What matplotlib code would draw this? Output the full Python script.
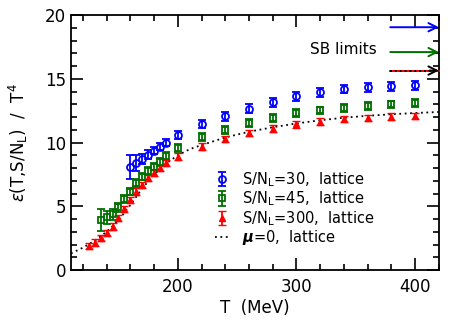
import matplotlib
matplotlib.use('Agg')
import matplotlib.pyplot as plt
from matplotlib.ticker import MultipleLocator

# ── Data ──────────────────────────────────────────────
T_30   = [160, 165, 170, 175, 180, 185, 190, 200, 220, 240, 260, 280, 300, 320, 340, 360, 380, 400]
eps_30 = [8.07, 8.4, 8.7, 9.06, 9.37, 9.69, 10.0, 10.6, 11.45, 12.07, 12.67, 13.15, 13.65, 13.95, 14.2, 14.35, 14.42, 14.5]
err_30 = [0.95, 0.6, 0.4, 0.35, 0.3, 0.3, 0.3, 0.3, 0.3, 0.35, 0.35, 0.35, 0.35, 0.35, 0.35, 0.35, 0.35, 0.35]

T_45   = [135, 140, 145, 150, 155, 160, 165, 170, 175, 180, 185, 190, 200, 220, 240, 260, 280, 300, 320, 340, 360, 380, 400]
eps_45 = [3.9, 4.14, 4.37, 4.92, 5.55, 6.15, 6.81, 7.33, 7.78, 8.12, 8.5, 8.95, 9.56, 10.45, 11.0, 11.52, 11.94, 12.3, 12.52, 12.7, 12.88, 13.0, 13.1]
err_45 = [0.85, 0.5, 0.45, 0.35, 0.3, 0.3, 0.3, 0.3, 0.3, 0.3, 0.3, 0.3, 0.3, 0.3, 0.3, 0.3, 0.3, 0.3, 0.3, 0.3, 0.3, 0.3, 0.3]

T_300   = [125, 130, 135, 140, 145, 150, 155, 160, 165, 170, 175, 180, 185, 190, 200, 220, 240, 260, 280, 300, 320, 340, 360, 380, 400]
eps_300 = [1.89, 2.15, 2.49, 2.88, 3.4, 4.06, 4.77, 5.5, 6.15, 6.68, 7.2, 7.6, 7.99, 8.38, 8.9, 9.69, 10.3, 10.73, 11.1, 11.42, 11.65, 11.83, 11.92, 12.04, 12.06]
err_300 = [0.25] * len(T_300)

T_mu0   = [110, 120, 130, 140, 150, 160, 170, 180, 190, 200, 210, 220, 240, 260, 280, 300, 320, 340, 360, 380, 400, 420]
eps_mu0 = [1.3, 1.75, 2.3, 3.0, 3.9, 5.1, 6.4, 7.5, 8.35, 9.0, 9.48, 9.8, 10.4, 10.85, 11.2, 11.5, 11.75, 11.95, 12.1, 12.22, 12.32, 12.4]

SB_30, SB_45, SB_mu0 = 19.05, 17.1, 15.65
SB_T = [379, 420]

BLUE, GREEN, RED = '#0000ff', '#007000', '#ff0000'

# ── Figure ────────────────────────────────────────────
fig = plt.figure(figsize=(4.63, 3.36), dpi=100)
ax = fig.add_axes([0.1533, 0.1964, 0.7947, 0.7586])

ax.plot(T_mu0, eps_mu0, ls=(0, (1, 2)), color='black', lw=1.3, label=r'$\boldsymbol{\mu}$=0,  lattice', zorder=1)
ax.errorbar(T_30, eps_30, yerr=err_30, fmt='o', mfc='none', mec=BLUE, color=BLUE,
            ms=5, mew=1.3, capsize=3, elinewidth=1.3, capthick=1.3, label=r'S/N$_{\rm L}$=30,  lattice', zorder=3)
ax.errorbar(T_45, eps_45, yerr=err_45, fmt='s', mfc='none', mec=GREEN, color=GREEN,
            ms=4.5, mew=1.3, capsize=3, elinewidth=1.3, capthick=1.3, label=r'S/N$_{\rm L}$=45,  lattice', zorder=3)
ax.errorbar(T_300, eps_300, yerr=err_300, fmt='^', mfc=RED, mec=RED, color=RED,
            ms=5, mew=1.0, capsize=3, elinewidth=1.3, capthick=1.3, label=r'S/N$_{\rm L}$=300,  lattice', zorder=3)

# ── SB limit arrows ───────────────────────────────────
def sb_arrow(y, color):
    ax.annotate('', xy=(SB_T[1], y), xytext=(SB_T[0], y), annotation_clip=False,
                arrowprops=dict(arrowstyle='->', color=color, lw=1.4, mutation_scale=15,
                                shrinkA=0, shrinkB=0), zorder=5)

sb_arrow(SB_30, BLUE)
sb_arrow(SB_45, GREEN)
ax.plot(SB_T, [SB_mu0, SB_mu0], color=RED, lw=1.4, zorder=4, clip_on=False)
ax.plot(SB_T, [SB_mu0, SB_mu0], color='black', lw=1.4, ls=(0, (1, 1.5)), zorder=5, clip_on=False)
ax.annotate('', xy=(SB_T[1], SB_mu0), xytext=(SB_T[1] - 8, SB_mu0), annotation_clip=False,
            arrowprops=dict(arrowstyle='->', color='black', lw=1.4, mutation_scale=15,
                            shrinkA=0, shrinkB=0), zorder=6)
ax.text(368, 17.3, 'SB limits', ha='right', va='center', fontsize=11)

ax.set_xlim(110, 420)
ax.set_ylim(0, 20)
ax.xaxis.set_major_locator(MultipleLocator(100))
ax.xaxis.set_minor_locator(MultipleLocator(20))
ax.yaxis.set_major_locator(MultipleLocator(5))
ax.yaxis.set_minor_locator(MultipleLocator(1))
ax.tick_params(which='both', direction='in', top=True, right=True, labelsize=12, width=1.2)
ax.tick_params(which='major', length=8.5)
ax.tick_params(which='minor', length=4.5)
ax.tick_params(axis='x', which='major', pad=6)
for s in ax.spines.values():
    s.set_linewidth(1.3)

ax.set_xlabel('T  (MeV)', fontsize=12, labelpad=2)
ax.set_ylabel(r'$\epsilon$(T,S/N$_{\rm L}$)  /  T$^4$', fontsize=12, labelpad=11)

h, l = ax.get_legend_handles_labels()
order = [1, 2, 3, 0]
ax.legend([h[i] for i in order], [l[i] for i in order], loc='upper left', bbox_to_anchor=(0.376, 0.415),
          frameon=False, fontsize=10.5, handlelength=1.0, handletextpad=0.85, labelspacing=0.05,
          borderaxespad=0)

plt.savefig('out.png', dpi=100)
